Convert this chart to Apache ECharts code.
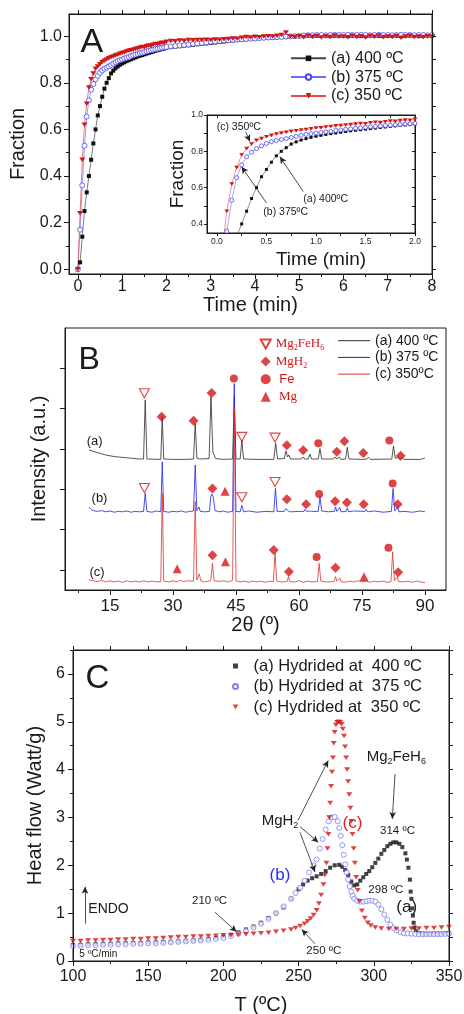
<!DOCTYPE html>
<html><head><meta charset="utf-8">
<script src="https://cdn.jsdelivr.net/npm/echarts@6/dist/echarts.min.js"></script>
<style>html,body{margin:0;padding:0;background:#fff}#c{width:464px;height:1014px}</style>
</head><body><div id="c"></div>
<script>
// ---------------- Panel A : hydriding kinetics ----------------
const timeA = [0,0.05,0.1,0.15,0.2,0.25,0.3,0.35,0.4,0.45,0.5,0.55,0.6,0.65,0.7,0.75,0.8,0.85,0.9,0.95,1.0,1.05,1.1,1.15,1.2,1.25,1.3,1.35,1.4,1.45,1.5,1.55,1.6,1.65,1.7,1.75,1.8,1.85,1.9,1.95,2.0,
  2.1,2.2,2.3,2.4,2.5,2.6,2.7,2.8,2.9,3.0,3.1,3.2,3.3,3.4,3.5,3.6,3.7,3.8,3.9,4.0,4.1,4.2,4.3,4.4,4.5,4.6,4.7,4.8,4.9,5.0,
  5.1,5.2,5.3,5.4,5.5,5.6,5.7,5.8,5.9,6.0,6.1,6.2,6.3,6.4,6.5,6.6,6.7,6.8,6.9,7.0,7.1,7.2,7.3,7.4,7.5,7.6,7.7,7.8,7.9,8.0];
const frac400 = [0,0.03,0.14,0.25,0.33,0.40,0.47,0.54,0.60,0.66,0.70,0.74,0.775,0.80,0.82,0.84,0.852,0.862,0.87,0.877,0.883,0.888,0.893,0.897,0.901,0.905,0.909,0.913,0.916,0.919,0.922,0.925,0.928,0.931,0.934,0.937,0.94,0.942,0.945,0.947,0.95,
  0.953,0.955,0.957,0.959,0.961,0.963,0.965,0.967,0.969,0.971,0.973,0.975,0.977,0.979,0.981,0.983,0.985,0.987,0.988,0.990,
  0.991,0.992,0.993,0.994,0.995,0.996,0.997,0.998,0.999,1.000,1.000,1.001,1.000,1.001,1.002,1.001,1.000,1.001,1.002,1.001,
  1.000,1.001,1.002,1.001,1.000,1.001,1.002,1.001,1.000,1.001,1.002,1.001,1.000,1.001,1.002,1.001,1.000,1.001,1.002,1.002];
const frac375 = [0,0.17,0.36,0.53,0.655,0.725,0.77,0.795,0.815,0.83,0.843,0.853,0.86,0.865,0.87,0.876,0.882,0.888,0.893,0.897,0.90,0.904,0.907,0.91,0.915,0.918,0.921,0.924,0.927,0.929,0.932,0.935,0.937,0.94,0.942,0.944,0.946,0.948,0.95,0.952,0.954,
  0.956,0.958,0.960,0.962,0.964,0.967,0.969,0.971,0.973,0.976,0.977,0.979,0.981,0.982,0.984,0.985,0.987,0.988,0.989,0.990,
  0.992,0.993,0.994,0.995,0.996,0.997,0.998,0.999,1.000,1.001,1.003,1.004,1.004,1.005,1.005,1.004,1.005,1.006,1.005,1.005,
  1.006,1.005,1.005,1.006,1.005,1.004,1.005,1.006,1.005,1.005,1.004,1.005,1.006,1.005,1.005,1.004,1.005,1.005,1.004,1.005];
const frac350 = [0,0.24,0.47,0.62,0.71,0.78,0.815,0.84,0.86,0.87,0.88,0.888,0.895,0.90,0.905,0.91,0.913,0.917,0.92,0.924,0.928,0.93,0.934,0.937,0.94,0.942,0.945,0.947,0.95,0.953,0.952,0.957,0.96,0.958,0.963,0.966,0.965,0.969,0.972,0.971,0.976,
  0.979,0.978,0.981,0.980,0.983,0.982,0.984,0.983,0.985,0.984,0.986,0.985,0.987,0.988,0.990,0.989,0.993,0.996,0.994,0.997,
  0.995,0.999,1.000,0.998,1.002,1.005,1.016,0.998,0.996,1.000,0.995,1.002,0.997,1.001,0.994,1.000,0.996,1.003,0.997,0.999,
  0.995,1.002,0.996,1.000,0.994,1.001,0.997,1.003,0.995,0.999,0.996,1.001,0.993,0.998,1.002,0.996,0.999,0.995,1.000,0.998];
const namesA = ['(a) 400 ºC','(b) 375 ºC','(c) 350 ºC'];

// ---------------- Panel B : XRD patterns [2theta, intensity] ----------------
const xrd400 = [[10,2.98],[11,2.94],[12,2.91],[13,2.88],[14,2.85],[15,2.83],[16,2.81],[17,2.80],[18,2.79],[19,2.78],[20,2.77],[21,2.76],[22,2.75],[23.0,2.75],[23.4,4.21],[23.8,2.75],
 [27.1,2.74],[27.45,3.80],[27.8,2.75],[30,2.74],[33,2.74],[34.9,2.75],[35.3,3.63],[35.7,2.77],[36.3,2.75],[38.6,2.76],[39.05,4.29],[39.5,2.92],[39.8,2.90],[40.2,2.76],
 [42,2.74],[44.2,2.75],[44.6,4.30],[45.0,2.75],[46.0,2.75],[46.4,3.22],[46.8,2.75],[50,2.74],[54.0,2.74],[54.45,3.14],[54.9,2.75],[56.5,2.76],[56.9,2.95],[57.3,2.80],[57.6,2.85],[58.0,2.75],
 [60.6,2.75],[61.0,2.80],[61.4,2.75],[62.2,2.75],[62.6,2.87],[63.0,2.75],[64.6,2.75],[65.0,3.01],[65.4,2.75],[68.2,2.75],[68.6,2.80],[69.0,2.75],[69.3,2.75],[69.6,2.80],[70.0,2.74],
 [71.1,2.75],[71.5,3.04],[71.9,2.75],[75.3,2.74],[75.7,2.78],[76.1,2.75],[76.3,2.75],[76.6,2.79],[77.0,2.74],[82.1,2.75],[82.5,3.07],[82.9,2.77],[83.5,2.79],[84.0,2.74],[84.5,2.79],[85.0,2.74],[89,2.74],[90,2.78]];
const xrd375 = [[10,1.56],[10.5,1.50],[11,1.47],[12,1.45],[13,1.47],[14,1.44],[15,1.46],[16,1.43],[17,1.45],[18,1.44],[19,1.46],[20,1.43],[21,1.45],[22,1.44],[23.0,1.45],[23.4,1.90],[23.8,1.45],
 [25,1.43],[26,1.46],[27.1,1.44],[27.45,2.68],[27.8,1.45],[29,1.43],[30,1.45],[31,1.44],[32,1.46],[33,1.43],[34,1.45],[34.9,1.46],[35.3,2.60],[35.7,1.47],[36.0,1.46],[36.2,1.56],[36.5,1.45],
 [37.5,1.44],[38.7,1.45],[39.0,1.82],[39.3,1.88],[39.6,1.80],[40.0,1.47],[41,1.44],[42,1.46],[43,1.43],[44.2,1.45],[44.6,4.62],[45.0,1.45],[46.0,1.44],[46.4,1.60],[46.8,1.44],
 [48,1.46],[50,1.43],[52,1.45],[54.0,1.44],[54.4,2.02],[54.8,1.45],[56.5,1.45],[56.9,1.52],[57.3,1.47],[57.6,1.51],[58,1.44],[60,1.45],[61.2,1.45],[61.5,1.50],[61.8,1.45],[62.4,1.46],[62.7,1.49],[63.0,1.45],
 [64.6,1.45],[65.0,1.81],[65.4,1.46],[67,1.44],[68.4,1.45],[68.7,1.56],[69.0,1.45],[69.4,1.45],[69.7,1.55],[70.0,1.44],[71.2,1.45],[71.5,1.53],[71.8,1.44],[73,1.46],[75.7,1.45],[76.0,1.50],[76.3,1.44],
 [78,1.46],[80,1.43],[82.0,1.45],[82.4,2.02],[82.8,1.46],[83.2,1.46],[83.5,1.56],[83.8,1.44],[85,1.45],[87,1.43],[89,1.46],[90,1.44]];
const xrd350 = [[10,-0.24],[11,-0.27],[12,-0.29],[13,-0.26],[14,-0.30],[15,-0.27],[16,-0.30],[17,-0.28],[18,-0.31],[19,-0.27],[20,-0.30],[21,-0.28],[22,-0.30],[23,-0.27],[24,-0.30],[25,-0.28],[26,-0.30],
 [27.1,-0.29],[27.45,1.90],[27.8,-0.28],[29,-0.30],[30,-0.27],[31,-0.30],[31.8,-0.26],[32.5,-0.29],[33.5,-0.27],[34.9,-0.28],[35.3,1.70],[35.7,-0.25],[36.0,-0.24],[36.3,-0.10],[36.6,-0.27],
 [37.5,-0.30],[38.5,-0.28],[39.0,-0.27],[39.4,0.16],[39.8,-0.27],[41,-0.29],[42,-0.27],[43,-0.30],[44.2,-0.26],[44.6,4.04],[45.0,-0.27],[46,-0.30],[47,-0.28],[48,-0.31],[49,-0.28],[50,-0.30],
 [51,-0.28],[52,-0.31],[53,-0.28],[53.9,-0.30],[54.3,0.42],[54.7,-0.28],[56,-0.30],[57.2,-0.29],[57.5,-0.17],[57.8,-0.29],[59,-0.30],[60,-0.27],[61,-0.31],[62,-0.28],[63,-0.30],
 [64.4,-0.29],[64.8,0.16],[65.2,-0.28],[66.5,-0.30],[68.4,-0.29],[68.7,-0.17],[69.0,-0.28],[69.4,-0.28],[69.7,-0.20],[70.0,-0.29],[71,-0.31],[72,-0.28],[73,-0.30],[74,-0.27],[75,-0.30],
 [76,-0.28],[77,-0.31],[78,-0.28],[79,-0.30],[80,-0.28],[81,-0.31],[81.9,-0.29],[82.3,0.45],[82.7,-0.27],[83.1,-0.28],[83.4,-0.17],[83.7,-0.29],[85,-0.30],[86,-0.28],[87,-0.31],[88,-0.28],[89,-0.30],[90,-0.32]];
const namesB = ['(a) 400\u00a0ºC','(b) 375\u00a0ºC','(c) 350ºC'];
// phase markers [2theta, height]
const mg2feh6Pts = [[23.2,4.38],[46.4,3.30],[54.3,3.28],[23.2,2.03],[46.4,1.80],[54.3,2.18]];
const mgh2Pts = [[27.3,3.80],[34.9,3.70],[39.2,4.39],[57.1,3.09],[61.0,2.97],[69.0,2.93],[70.8,3.19],[75.3,2.90],[84.2,2.83],
  [39.4,2.02],[57.1,1.75],[61.7,1.63],[68.6,1.70],[71.4,1.67],[75.4,1.63],[83.5,1.63],
  [39.4,0.36],[54.0,0.49],[57.6,-0.05],[68.7,0.05],[83.6,-0.06]];
const fePts = [[44.5,4.75],[64.6,3.14],[81.5,3.21],[64.8,1.88],[82.3,2.14],[64.2,0.32],[81.3,0.55]];
const mgPts = [[42.4,1.95],[31.0,0.03],[42.5,0.20],[75.5,-0.17]];
const phaseNames = ['Mg2FeH6','MgH2','Fe','Mg'];

// ---------------- Panel C : DSC ----------------
const T400 = [100,105,110,115,120,125,130,135,140,145,150,155,160,165,170,175,180,185,190,195,200,205,210,215,220,225,230,235,240,245,250,
  253,256,259,262,265,268,271,274,277,279,281,283,285,287,289,291,293,295,297,299,301,303,305,307,309,311,313,315,317,319,321,
  322,323,324,324.5,325,325.5,326,326.5,327,328,330,332,334,336,338,340,342,344,346,348,350];
const HF400 = [0.33,0.34,0.35,0.35,0.36,0.36,0.37,0.37,0.38,0.38,0.39,0.39,0.40,0.40,0.41,0.42,0.43,0.44,0.46,0.48,0.51,0.55,0.60,0.66,0.72,0.80,0.90,1.00,1.12,1.30,1.50,
  1.60,1.68,1.73,1.77,1.82,1.88,1.95,2.00,2.01,1.97,1.90,1.80,1.66,1.58,1.60,1.68,1.75,1.82,1.88,1.96,2.05,2.14,2.24,2.32,2.40,2.45,2.48,2.48,2.45,2.38,2.25,
  2.12,1.95,1.70,1.45,1.30,1.10,0.95,0.80,0.70,0.62,0.58,0.57,0.57,0.57,0.57,0.57,0.57,0.57,0.57,0.58,0.58];
const T375 = [100,105,110,115,120,125,130,135,140,145,150,155,160,165,170,175,180,185,190,195,200,205,210,215,220,225,230,235,240,245,
  248,251,254,257,260,262,264,266,268,270,272,274,276,277,278,279,280,281,282,283,284,285,286,287,289,291,293,295,297,299,301,303,305,307,309,311,313,315,318,
  320,322.5,325,327.5,330,332.5,335,337.5,340,342.5,345,347.5,350];
const HF375 = [0.31,0.32,0.33,0.33,0.34,0.34,0.35,0.35,0.36,0.36,0.37,0.37,0.38,0.39,0.40,0.41,0.42,0.43,0.44,0.46,0.48,0.52,0.57,0.63,0.70,0.78,0.88,1.00,1.14,1.30,
  1.42,1.53,1.68,1.85,2.00,2.12,2.35,2.55,2.75,2.92,3.00,3.01,2.92,2.78,2.62,2.42,2.22,2.02,1.85,1.70,1.56,1.45,1.36,1.30,1.26,1.24,1.24,1.25,1.26,1.26,1.24,1.18,1.08,0.97,0.86,0.76,0.69,0.64,0.60,
  0.58,0.575,0.57,0.565,0.56,0.56,0.56,0.56,0.56,0.56,0.56,0.565,0.57];
const T350 = [100,105,110,115,120,125,130,135,140,145,150,155,160,165,170,175,180,185,190,195,200,205,210,215,220,225,230,235,240,245,
  248,251,254,256,258,260,262,263.5,265,266.5,267.5,268.5,269.2,269.8,270.4,271,271.6,272.2,272.8,273.4,274,274.8,275.6,276.6,277.6,278.6,279.4,280.2,280.9,281.6,
  282.3,283,283.7,284.4,285.1,285.8,286.6,287.4,288.3,289.3,290.5,292,294,296,298,301,305,310,315,320,325,330,335,340,345,350];
const HF350 = [0.42,0.42,0.43,0.43,0.44,0.44,0.45,0.45,0.46,0.46,0.47,0.47,0.48,0.49,0.50,0.50,0.51,0.51,0.52,0.53,0.54,0.54,0.55,0.56,0.57,0.58,0.59,0.61,0.63,0.66,
  0.69,0.73,0.78,0.83,0.89,0.96,1.06,1.20,1.38,1.60,1.80,2.05,2.35,2.65,3.00,3.30,3.65,3.95,4.25,4.55,4.78,4.93,4.99,5.00,4.99,4.95,4.85,4.70,4.48,4.25,
  4.00,3.75,3.48,3.20,2.92,2.65,2.35,2.05,1.75,1.48,1.25,1.05,0.90,0.80,0.74,0.70,0.68,0.67,0.67,0.67,0.68,0.68,0.69,0.69,0.70,0.71];
const namesC = ['(a) Hydrided at  400 ºC','(b) Hydrided at  375 ºC','(c) Hydrided at  350 ºC'];

// ---------------- build ----------------
const FONT = "'Liberation Sans', Arial, Helvetica, sans-serif";
const SERIF = "'Liberation Serif', 'Times New Roman', serif";
const INK = '#1a1a1a';
const RED = '#d41515', BLUE = '#4646f5', BLK = '#111111';
const zip = (xs, ys) => xs.map((x, i) => [x, ys[i]]);
const downTri = 'path://M0,0L10,0L5,9Z';
const square = 'path://M0,0L10,0L10,10L0,10Z';
const thinLine = 'path://M0,0L32,0L32,1L0,1Z';

function axis(o) {
  const a = {
    type: 'value', gridIndex: o.grid, min: o.min, max: o.max, position: o.pos,
    show: o.show !== false,
    splitLine: { show: false },
    axisLine: { show: o.line !== false, onZero: false, lineStyle: { color: INK, width: 1 } },
    axisTick: { show: !!o.ticks, inside: !!o.inside, length: o.tlen || 5, customValues: o.ticks, lineStyle: { color: INK, width: 1 } },
    axisLabel: { show: !!o.labels, customValues: o.labels, fontSize: o.fs, fontFamily: FONT, color: INK, margin: o.margin },
    z: 5
  };
  if (o.fmt) a.axisLabel.formatter = o.fmt;
  if (o.name) {
    a.name = o.name; a.nameLocation = 'middle'; a.nameGap = o.gap;
    a.nameTextStyle = Object.assign({ fontSize: o.nfs, fontFamily: FONT, color: INK }, o.nts || {});
  }
  return a;
}
const f1 = v => Number(v).toFixed(1);

const gridBase = { containLabel: false, outerBoundsMode: 'none', borderColor: INK, borderWidth: 1 };
const grids = [
  Object.assign({ left: 69, top: 14, width: 363, height: 260, show: true }, gridBase),
  Object.assign({ left: 69, top: 14, width: 363, height: 260, show: false }, gridBase),
  Object.assign({ left: 207, top: 115, width: 208, height: 118, show: true, backgroundColor: '#fff' }, gridBase),
  Object.assign({ left: 65, top: 328, width: 381, height: 262, show: true }, gridBase),
  Object.assign({ left: 65, top: 328, width: 381, height: 262, show: false }, gridBase),
  Object.assign({ left: 73, top: 650, width: 376, height: 311, show: true }, gridBase),
  Object.assign({ left: 73, top: 650, width: 376, height: 311, show: false }, gridBase)
];

const xAxes = [
  axis({ grid: 0, min: -0.2, max: 8, ticks: [0,1,2,3,4,5,6,7,8], labels: [0,1,2,3,4,5,6,7,8], fs: 16, margin: 5, name: 'Time (min)', gap: 21, nfs: 20 }),
  axis({ grid: 0, min: -0.2, max: 8, pos: 'top', ticks: [0,0.5,1,1.5,2,2.5,3,3.5,4,4.5,5,5.5,6,6.5,7,7.5,8], tlen: 4 }),
  axis({ grid: 1, min: -0.2, max: 8, line: false, ticks: [0.5,1.5,2.5,3.5,4.5,5.5,6.5,7.5], tlen: 3 }),
  axis({ grid: 2, min: -0.1, max: 2, ticks: [0,0.25,0.5,0.75,1,1.25,1.5,1.75,2], tlen: 3, labels: [0,0.5,1,1.5,2], fs: 8.5, margin: 4, fmt: f1, name: 'Time (min)', gap: 17, nfs: 19, nts: { padding: [0,0,0,20] } }),
  axis({ grid: 2, min: -0.1, max: 2, pos: 'top', ticks: [0,0.25,0.5,0.75,1,1.25,1.5,1.75,2], tlen: 3, inside: true }),
  axis({ grid: 3, min: 4.3, max: 95, ticks: [15,30,45,60,75,90], labels: [15,30,45,60,75,90], fs: 17, margin: 8, name: '2θ (º)', gap: 23, nfs: 20 }),
  axis({ grid: 4, min: 4.3, max: 95, line: false, ticks: [7.5,22.5,37.5,52.5,67.5,82.5], tlen: 3 }),
  axis({ grid: 5, min: 100, max: 350, ticks: [100,150,200,250,300,350], labels: [100,150,200,250,300,350], fs: 16, margin: 8, name: 'T (ºC)', gap: 34, nfs: 20 }),
  axis({ grid: 5, min: 100, max: 350, pos: 'top', ticks: [100,125,150,175,200,225,250,275,300,325,350], tlen: 4 }),
  axis({ grid: 6, min: 100, max: 350, line: false, ticks: [125,175,225,275,325], tlen: 3 })
];
const yAxes = [
  axis({ grid: 0, min: -0.02, max: 1.095, ticks: [0,0.2,0.4,0.6,0.8,1.0], labels: [0,0.2,0.4,0.6,0.8,1.0], fs: 16, margin: 7, fmt: f1, name: 'Fraction', gap: 36, nfs: 20 }),
  axis({ grid: 0, min: -0.02, max: 1.095, pos: 'right', ticks: [0,0.1,0.2,0.3,0.4,0.5,0.6,0.7,0.8,0.9,1.0], tlen: 4 }),
  axis({ grid: 1, min: -0.02, max: 1.095, line: false, ticks: [0.1,0.3,0.5,0.7,0.9], tlen: 3 }),
  axis({ grid: 2, min: 0.35, max: 1.0, ticks: [0.4,0.5,0.6,0.7,0.8,0.9,1.0], tlen: 3, labels: [0.4,0.6,0.8,1.0], fs: 8.5, margin: 4, fmt: f1, name: 'Fraction', gap: 20, nfs: 19 }),
  axis({ grid: 2, min: 0.35, max: 1.0, pos: 'right', ticks: [0.4,0.5,0.6,0.7,0.8,0.9,1.0], tlen: 3, inside: true }),
  axis({ grid: 3, min: -0.5, max: 6, ticks: [0,1,2,3,4,5], name: 'Intensity (a.u.)', gap: 16, nfs: 20 }),
  axis({ grid: 4, min: -0.5, max: 6, show: false, line: false }),
  axis({ grid: 5, min: 0, max: 6.5, ticks: [0,1,2,3,4,5,6], labels: [0,1,2,3,4,5,6], fs: 16, margin: 8, name: 'Heat flow (Watt/g)', gap: 27, nfs: 20 }),
  axis({ grid: 5, min: 0, max: 6.5, pos: 'right', ticks: [0,0.5,1,1.5,2,2.5,3,3.5,4,4.5,5,5.5,6,6.5], tlen: 4 }),
  axis({ grid: 6, min: 0, max: 6.5, line: false, ticks: [0.5,1.5,2.5,3.5,4.5,5.5,6.5], tlen: 3 })
];

const arrowML = (pairs) => ({
  silent: true, animation: false, symbol: ['none', 'arrow'], symbolSize: [5, 7],
  label: { show: false }, lineStyle: { color: '#222', width: 0.8, type: 'solid' },
  emphasis: { disabled: true },
  data: pairs.map(p => [{ coord: p[0] }, { coord: p[1] }])
});

const kin = [
  { name: namesA[0], ys: frac400, sym: square, sz: 4, sz2: 3, item: { color: BLK }, line: '#444' },
  { name: namesA[1], ys: frac375, sym: 'circle', sz: 5, sz2: 4, item: { color: '#fff', borderColor: BLUE, borderWidth: 0.8 }, line: '#6a6aff' },
  { name: namesA[2], ys: frac350, sym: downTri, sz: [6, 5], sz2: [5, 4], item: { color: RED }, line: '#e24a4a' }
];
const series = [];
kin.forEach(k => {
  series.push({ name: k.name, type: 'line', xAxisIndex: 0, yAxisIndex: 0, data: zip(timeA, k.ys),
    symbol: k.sym, symbolSize: k.sz, symbolKeepAspect: true, showAllSymbol: true, itemStyle: k.item,
    lineStyle: { color: k.line, width: 0.7 }, emphasis: { disabled: true }, z: 3 });
});
kin.forEach((k, i) => {
  const s = { name: k.name, type: 'line', xAxisIndex: 3, yAxisIndex: 3, data: zip(timeA, k.ys),
    symbol: k.sym, symbolSize: k.sz2, symbolKeepAspect: true, showAllSymbol: true, itemStyle: k.item,
    lineStyle: { color: k.line, width: 0.6 }, emphasis: { disabled: true }, clip: true, z: 6 };
  if (i === 0) s.markLine = arrowML([
    [[0.29, 0.908], [0.333, 0.854]],
    [[0.502, 0.514], [0.249, 0.715]],
    [[0.872, 0.578], [0.636, 0.77]]
  ]);
  series.push(s);
});
[[namesB[0], xrd400, '#2b2b2b'], [namesB[1], xrd375, '#1f1fee'], [namesB[2], xrd350, '#e03434']].forEach(b => {
  series.push({ name: b[0], type: 'line', xAxisIndex: 5, yAxisIndex: 5, data: b[1], symbol: 'none', showSymbol: false,
    lineStyle: { color: b[2], width: 0.8 }, itemStyle: { color: b[2] }, emphasis: { disabled: true }, z: 3 });
});
[[phaseNames[0], mg2feh6Pts, downTri, 10, { color: 'rgba(255,255,255,0)', borderColor: RED, borderWidth: 1.1 }],
 [phaseNames[1], mgh2Pts, 'diamond', 10, { color: RED }],
 [phaseNames[2], fePts, 'circle', 8, { color: RED }],
 [phaseNames[3], mgPts, 'triangle', 9, { color: RED }]].forEach(m => {
  series.push({ name: m[0], type: 'scatter', xAxisIndex: 5, yAxisIndex: 5, data: m[1], symbol: m[2], symbolSize: m[3],
    symbolKeepAspect: true, itemStyle: m[4], emphasis: { disabled: true }, z: 5 });
});
const dsc = [
  { name: namesC[0], xs: T400, ys: HF400, sym: square, sz: 4, item: { color: BLK } },
  { name: namesC[1], xs: T375, ys: HF375, sym: 'circle', sz: 5, item: { color: '#fff', borderColor: '#5c5cf7', borderWidth: 0.8 } },
  { name: namesC[2], xs: T350, ys: HF350, sym: downTri, sz: [6, 5], item: { color: RED } }
];
dsc.forEach((d, i) => {
  const s = { name: d.name, type: 'scatter', xAxisIndex: 7, yAxisIndex: 7, data: zip(d.xs, d.ys), symbol: d.sym,
    symbolSize: d.sz, symbolKeepAspect: true, itemStyle: d.item, emphasis: { disabled: true }, z: 3 + i };
  if (i === 0) s.markLine = arrowML([
    [[249.6, 2.94], [269.7, 4.19]],
    [[250.9, 2.81], [263.1, 2.48]],
    [[250.9, 2.69], [260.9, 1.86]],
    [[314.1, 3.91], [312.3, 2.97]],
    [[194.4, 1.02], [208.8, 0.61]],
    [[260.9, 0.36], [252.1, 0.66]],
    [[108, 0.78], [108, 1.55]]
  ]);
  series.push(s);
});

const legTxt = { fontFamily: FONT, color: INK };
const legends = [
  { data: namesA, orient: 'vertical', left: 290, top: 49.3, itemWidth: 35, itemHeight: 7, itemGap: 0.8, padding: 0,
    selectedMode: false, textStyle: Object.assign({ fontSize: 16, lineHeight: 18 }, legTxt) },
  { data: phaseNames, orient: 'vertical', left: 259.7, top: 336, itemWidth: 10, itemHeight: 10, itemGap: 1.6, padding: 0,
    selectedMode: false,
    formatter: n => n === 'Mg2FeH6' ? '{m|Mg}{s|2}{m|FeH}{s|6}' : n === 'MgH2' ? '{m|MgH}{s|2}' : n === 'Fe' ? '{f| Fe}' : '{m| Mg}',
    textStyle: { lineHeight: 16, rich: {
      m: { fontFamily: SERIF, fontSize: 13, color: RED, lineHeight: 16 },
      s: { fontFamily: SERIF, fontSize: 8, color: RED, lineHeight: 16, verticalAlign: 'bottom' },
      f: { fontFamily: FONT, fontSize: 13, color: RED, lineHeight: 16 } } } },
  { data: namesB.map(n => ({ name: n, icon: thinLine })), orient: 'vertical', left: 338, top: 333.2, itemWidth: 32, itemHeight: 1, itemGap: 1.7, padding: 0,
    selectedMode: false, textStyle: Object.assign({ fontSize: 14, lineHeight: 15 }, legTxt) },
  { data: namesC, orient: 'vertical', left: 232, top: 656.5, itemWidth: 26, itemHeight: 5, itemGap: 1.5, padding: 0,
    selectedMode: false, textStyle: Object.assign({ fontSize: 16.5, lineHeight: 19 }, legTxt) }
];

function txt(x, y, text, size, o) {
  o = o || {};
  const al = o.align || 'left';
  const st = { text: text, fontSize: size, fontFamily: o.font || FONT, fill: o.color || INK,
    align: al, verticalAlign: 'middle', textAlign: al, textVerticalAlign: 'middle' };
  if (o.rich) st.rich = o.rich;
  return { type: 'text', x: x, y: y, z: 100, silent: true, style: st };
}
const subRich = {
  m: { fontFamily: FONT, fontSize: 15, fill: INK, lineHeight: 18 },
  s: { fontFamily: FONT, fontSize: 9, fill: INK, lineHeight: 18, verticalAlign: 'bottom' }
};
const graphics = [
  txt(80.5, 42.5, 'A', 34), txt(78.5, 360.5, 'B', 32), txt(85.5, 678.7, 'C', 33),
  txt(216.7, 127, '(c) 350ºC', 10.5), txt(263.3, 211.7, '(b) 375ºC', 10.5), txt(303.3, 198.7, '(a) 400ºC', 10.5),
  txt(94.7, 441.7, '(a)', 13, { align: 'center' }), txt(99.5, 498.8, '(b)', 13, { align: 'center' }), txt(97, 572.5, '(c)', 13, { align: 'center' }),
  txt(261.7, 821, '{m|MgH}{s|2}', 15, { rich: subRich }),
  txt(366.7, 757, '{m|Mg}{s|2}{m|FeH}{s|6}', 15, { rich: subRich }),
  txt(397.5, 831, '314 ºC', 11.5, { align: 'center' }),
  txt(385.8, 889.5, '298 ºC', 11.5, { align: 'center' }),
  txt(352.5, 823.3, '(c)', 17, { align: 'center', color: '#e02020' }),
  txt(280, 875.5, '(b)', 17, { align: 'center', color: '#2a2aff' }),
  txt(406.7, 907.5, '(a)', 17, { align: 'center' }),
  txt(209.5, 900.7, '210 ºC', 11.5, { align: 'center' }),
  txt(323.8, 951, '250 ºC', 11.5, { align: 'center' }),
  txt(88.3, 909, 'ENDO', 14),
  txt(79.3, 954.5, '5 ºC/min', 10)
];

const chart = echarts.init(document.getElementById('c'), null, { renderer: 'canvas' });
chart.setOption({
  animation: false, backgroundColor: '#fff',
  textStyle: { fontFamily: FONT },
  grid: grids, xAxis: xAxes, yAxis: yAxes,
  legend: legends, series: series, graphic: graphics
});
</script></body></html>
